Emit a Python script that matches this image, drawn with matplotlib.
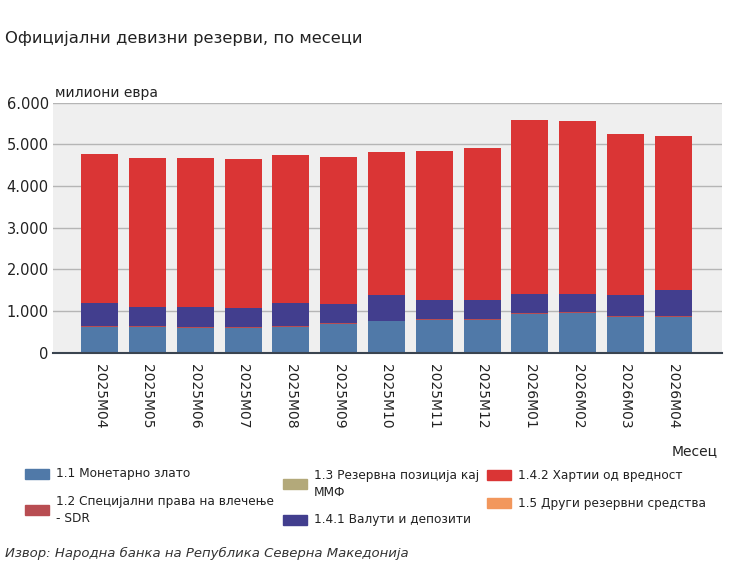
import matplotlib.pyplot as plt
from matplotlib.patches import Rectangle
from matplotlib.ticker import FuncFormatter
import numpy as np

plt.rcParams['font.family'] = ['DejaVu Sans']

months = ['2025M04', '2025M05', '2025M06', '2025M07', '2025M08', '2025M09', '2025M10',
          '2025M11', '2025M12', '2026M01', '2026M02', '2026M03', '2026M04']

# милиони евра
gold = [628, 628, 598, 598, 628, 693, 758, 788, 788, 933, 958, 868, 868]
sdr = [12, 12, 12, 12, 12, 12, 12, 12, 12, 12, 12, 12, 12]
imf = [1, 1, 1, 1, 1, 1, 1, 1, 1, 1, 1, 1, 1]
currency = [544, 464, 494, 469, 559, 464, 614, 464, 464, 464, 439, 504, 624]
securities = [3585, 3575, 3575, 3570, 3535, 3535, 3440, 3585, 3640, 4175, 4145, 3855, 3695]
other = [0, 0, 0, 0, 0, 0, 0, 0, 0, 0, 0, 0, 0]

names = ['1.1 Монетарно злато', '1.2 Специјални права на влечење\n- SDR',
         '1.3 Резервна позиција кај\nММФ', '1.4.1 Валути и депозити',
         '1.4.2 Хартии од вредност', '1.5 Други резервни средства']
colors = ['#5079a8', '#b84d52', '#b3a97a', '#423e8e', '#da3535', '#f2975c']

series = [gold, sdr, imf, currency, securities, other]

fig = plt.figure(figsize=(7.3, 5.61), dpi=100)
ax = fig.add_axes([0.0726, 0.3713, 0.9164, 0.4457])
ax.set_facecolor('#efefef')

x = np.arange(len(months))
bottom = np.zeros(len(months))
for vals, c in zip(series, colors):
    ax.bar(x, vals, 0.775, bottom=bottom, color=c, zorder=3)
    bottom += np.array(vals)

ax.set_xlim(-0.977, 13.02)
ax.set_ylim(0, 6000)
ax.set_yticks(range(0, 6001, 1000))
ax.yaxis.set_major_formatter(FuncFormatter(lambda v, p: f'{int(v):,}'.replace(',', '.')))
ax.grid(axis='y', color='#b5b5b5', linewidth=1, zorder=0)
for s in ['left', 'right', 'top']:
    ax.spines[s].set_visible(False)
ax.spines['bottom'].set_color('#3a4450')
ax.spines['bottom'].set_linewidth(1.5)
ax.spines['bottom'].set_zorder(4)
ax.tick_params(axis='both', length=0, labelsize=10.5, colors='#222222')
ax.tick_params(axis='y', pad=3)
ax.set_xticks(x)
ax.set_xticklabels(months, rotation=-90, va='top', ha='center', fontsize=10)
ax.tick_params(axis='x', pad=8)

fig.text(0.007, 1 - 38 / 561, 'Официјални девизни резерви, по месеци', fontsize=11.8,
         color='#222222', va='center', ha='left')
fig.text(55 / 730, 1 - 93 / 561, 'милиони евра', fontsize=10, color='#222222', va='center')
fig.text(718 / 730, 1 - 451 / 561, 'Месец', fontsize=10, color='#222222', va='center', ha='right')

# legend, placed by hand
leg_pos = [(25, 474), (25, 510), (283, 484), (283, 520), (487, 475), (487, 503)]
for name, c, (px, py) in zip(names, colors, leg_pos):
    fig.add_artist(Rectangle((px / 730, 1 - (py + 5) / 561), 24 / 730, 10 / 561,
                             transform=fig.transFigure, color=c))
    fig.text((px + 31) / 730, 1 - py / 561, name, fontsize=8.7, color='#222222',
             va='center', ha='left', linespacing=1.3)

fig.text(5 / 730, 1 - 560 / 561, 'Извор: Народна банка на Република Северна Македонија',
         fontsize=9.5, style='italic', color='#333333', va='bottom', ha='left')

fig.savefig('out.png', dpi=100)
